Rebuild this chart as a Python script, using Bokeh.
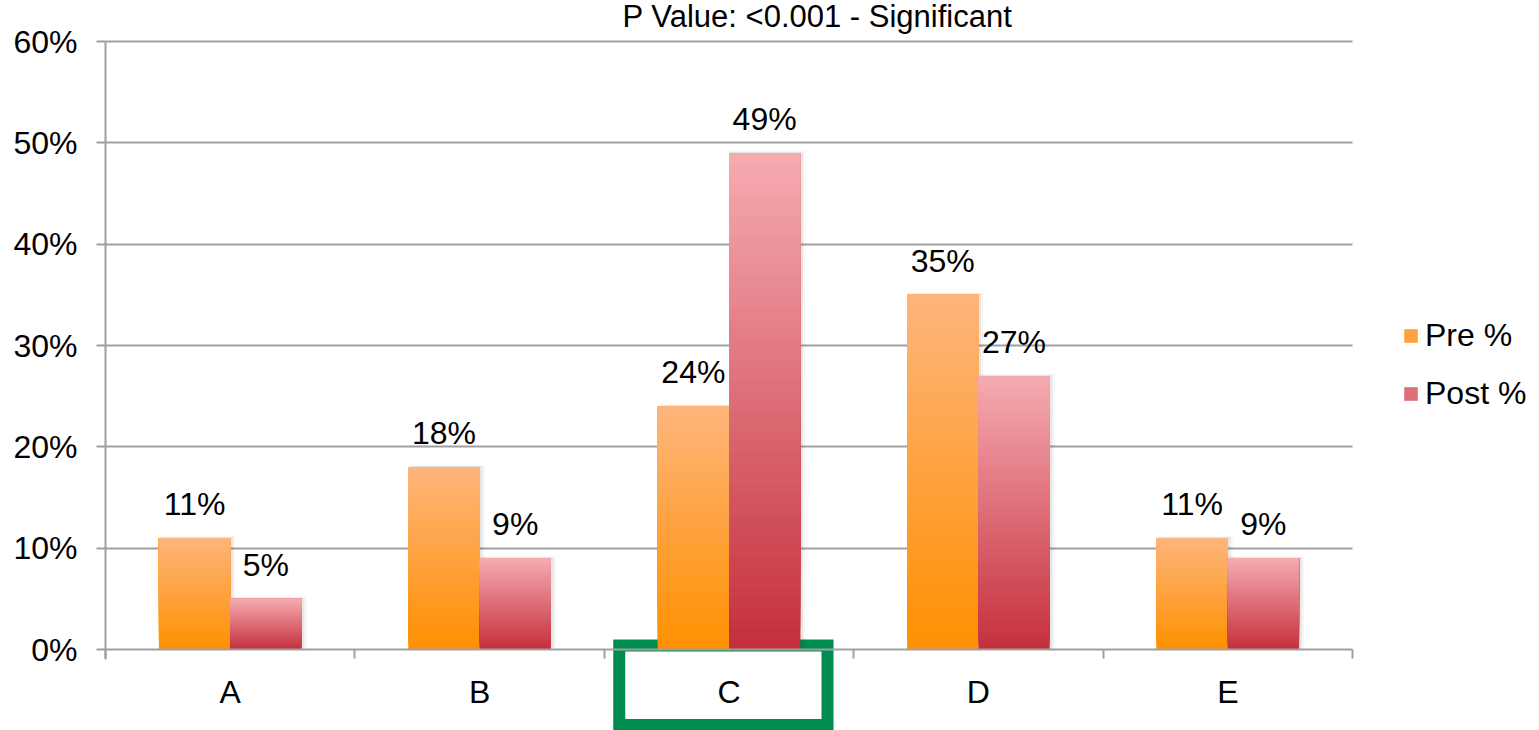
import numpy as np
from bokeh.plotting import figure
from bokeh.models import (Range1d, FixedTicker, NumeralTickFormatter, ColumnDataSource,
                          Legend, LegendItem, Label, BoxAnnotation)
from bokeh.core.properties import value
from bokeh.embed import file_html
from bokeh.resources import INLINE

# ---- data ----
categories = ["A", "B", "C", "D", "E"]
pre_pct = [11, 18, 24, 35, 11]
post_pct = [5, 9, 49, 27, 9]
y_ticks_pct = [0, 10, 20, 30, 40, 50, 60]
series_names = ["Pre %", "Post %"]
title_text = "P Value: <0.001 - Significant"
highlighted = "C"

# ---- style ----
FONT = "Liberation Sans"
FS = "32px"
GRID = "#A0A0A0"
BAR_W = 2 / 7          # two bars per category, 150% gap
N_STEPS = 48           # vertical gradient steps per bar
PRE_COLS = ((255, 144, 0), (254, 181, 124))      # bottom, top
POST_COLS = ((196, 47, 60), (246, 171, 177))     # bottom, top

# canvas geometry: plot area 105..1352 px wide, 60% at 41 px, 0% at 649 px
W, H = 1539, 730
LEFT, RIGHT, TOP, BOTTOM = 105, 1352, 41, 649
N_CAT = len(categories)
Y_MAX = max(y_ticks_pct) / 100
PX_X = (RIGHT - LEFT) / N_CAT
PX_Y = (BOTTOM - TOP) / Y_MAX


def hex_of(rgb):
    return "#%02x%02x%02x" % tuple(int(round(c)) for c in rgb)


def gradient_source(values, offset, cols):
    """Slices for a vertical gradient: each slice spans from its start up to the
    bar top, drawn bottom-first so the next slice covers the rest."""
    lo, hi = np.array(cols[0], float), np.array(cols[1], float)
    xs, bottoms, tops, colors = [], [], [], []
    for i, v in enumerate(values):
        top = v / 100.0
        for k in range(N_STEPS):
            t = (k + 0.5) / N_STEPS
            xs.append(i + 0.5 + offset)
            bottoms.append(top * k / N_STEPS)
            tops.append(top)
            colors.append(hex_of(lo + (hi - lo) * t))
    return ColumnDataSource(dict(x=xs, bottom=bottoms, top=tops, color=colors))


# the frame fills the whole canvas; axes are pinned at x=0 / y=0
p = figure(width=W, height=H, output_backend="svg", toolbar_location=None,
           x_range=Range1d(-LEFT / PX_X, N_CAT + (W - RIGHT) / PX_X),
           y_range=Range1d(-(H - BOTTOM) / PX_Y, Y_MAX + TOP / PX_Y),
           min_border_left=0, min_border_right=0,
           min_border_top=0, min_border_bottom=0)
p.title.visible = False
p.outline_line_color = None
p.background_fill_color = "white"
p.border_fill_color = "white"

# ---- axes ----
y_ticker = FixedTicker(ticks=[t / 100 for t in y_ticks_pct], minor_ticks=[])
p.yaxis.fixed_location = 0
p.yaxis.ticker = y_ticker
p.yaxis.bounds = (-10 / PX_Y, Y_MAX)
p.yaxis.formatter = NumeralTickFormatter(format="0%")
p.yaxis.axis_line_color = GRID
p.yaxis.axis_line_width = 2
p.yaxis.major_tick_line_color = GRID
p.yaxis.major_tick_line_width = 2
p.yaxis.major_tick_out = 9
p.yaxis.major_tick_in = 0
p.yaxis.minor_tick_line_color = None
p.yaxis.major_label_standoff = 19
p.yaxis.major_label_text_font = FONT
p.yaxis.major_label_text_font_size = FS
p.yaxis.major_label_text_color = "black"

centers = [i + 0.5 for i in range(N_CAT)]
p.xaxis.fixed_location = 0
p.xaxis.bounds = (0, N_CAT)
p.xaxis.ticker = FixedTicker(ticks=centers, minor_ticks=list(range(N_CAT + 1)))
p.xaxis.major_label_overrides = {c: name for c, name in zip(centers, categories)}
p.xaxis.axis_line_color = GRID
p.xaxis.axis_line_width = 2
p.xaxis.major_tick_line_color = None
p.xaxis.major_tick_out = 0
p.xaxis.major_tick_in = 0
p.xaxis.minor_tick_line_color = GRID
p.xaxis.minor_tick_line_width = 2
p.xaxis.minor_tick_out = 9
p.xaxis.minor_tick_in = 0
p.xaxis.major_label_standoff = 15
p.xaxis.major_label_text_font = FONT
p.xaxis.major_label_text_font_size = FS
p.xaxis.major_label_text_color = "black"

# horizontal gridlines across the category span only
p.xgrid.visible = False
grid_ticks = [t / 100 for t in y_ticks_pct[1:]]
try:
    p.ygrid.ticker = FixedTicker(ticks=grid_ticks, minor_ticks=[])
    p.ygrid.cross_bounds = (0, N_CAT)
    p.ygrid.grid_line_color = GRID
    p.ygrid.grid_line_width = 2
except AttributeError:
    p.ygrid.visible = False
    p.segment(x0=[0] * len(grid_ticks), x1=[N_CAT] * len(grid_ticks),
              y0=grid_ticks, y1=grid_ticks, line_color=GRID, line_width=2,
              level="underlay")

# ---- highlight frame around one category label ----
ci = categories.index(highlighted)
p.add_layout(BoxAnnotation(left=ci + 0.06, right=ci + 0.895,
                           top=4 / PX_Y, bottom=-75.5 / PX_Y,
                           fill_color=None, fill_alpha=0, line_color="#008C4E",
                           line_alpha=1.0, line_width=12, line_join="miter",
                           level="underlay"))

# ---- soft shadows behind bars ----
for vals, off in ((pre_pct, -BAR_W / 2), (post_pct, BAR_W / 2)):
    xs = [i + 0.5 + off for i in range(len(vals))]
    tops = [v / 100 for v in vals]
    p.vbar(x=[x + 3 / PX_X for x in xs], width=BAR_W + 4 / PX_X, bottom=0,
           top=[t + 2 / PX_Y for t in tops], fill_color="black", fill_alpha=0.035,
           line_color=None)
    p.vbar(x=[x + 2 / PX_X for x in xs], width=BAR_W + 1.5 / PX_X, bottom=0,
           top=[t + 1 / PX_Y for t in tops], fill_color="black", fill_alpha=0.06,
           line_color=None)

# ---- gradient bars ----
pre_src = gradient_source(pre_pct, -BAR_W / 2, PRE_COLS)
post_src = gradient_source(post_pct, BAR_W / 2, POST_COLS)
pre_r = p.vbar(x="x", width=BAR_W, bottom="bottom", top="top", source=pre_src,
               fill_color="color", line_color=None)
post_r = p.vbar(x="x", width=BAR_W, bottom="bottom", top="top", source=post_src,
                fill_color="color", line_color=None)

# ---- value labels ----
for vals, off in ((pre_pct, -BAR_W / 2), (post_pct, BAR_W / 2)):
    src = ColumnDataSource(dict(x=[i + 0.5 + off for i in range(len(vals))],
                                y=[v / 100 for v in vals],
                                t=["%d%%" % v for v in vals]))
    p.text(x="x", y="y", text="t", source=src, text_align="center",
           text_baseline="alphabetic", y_offset=-34, text_font=value(FONT),
           text_font_size=FS, text_color="black")

# ---- title, centred over the whole chart area ----
p.add_layout(Label(x=(817 - LEFT) / PX_X, y=Y_MAX + (TOP - 16) / PX_Y, text=title_text,
                   text_align="center", text_baseline="alphabetic", text_font=FONT,
                   text_font_size="31px", text_color="black"))

# ---- legend ----
mid = N_STEPS // 2
legend = Legend(items=[LegendItem(label=series_names[0], renderers=[pre_r], index=mid),
                       LegendItem(label=series_names[1], renderers=[post_r], index=mid)],
                location=(1402, 318), orientation="vertical",
                glyph_width=17, glyph_height=17, label_standoff=6, label_height=36,
                spacing=21, padding=0, margin=0, border_line_color=None,
                background_fill_alpha=0, label_text_font=FONT, label_text_font_size=FS,
                label_text_color="black")
p.add_layout(legend)

open("out.html", "w").write(file_html(p, INLINE))
